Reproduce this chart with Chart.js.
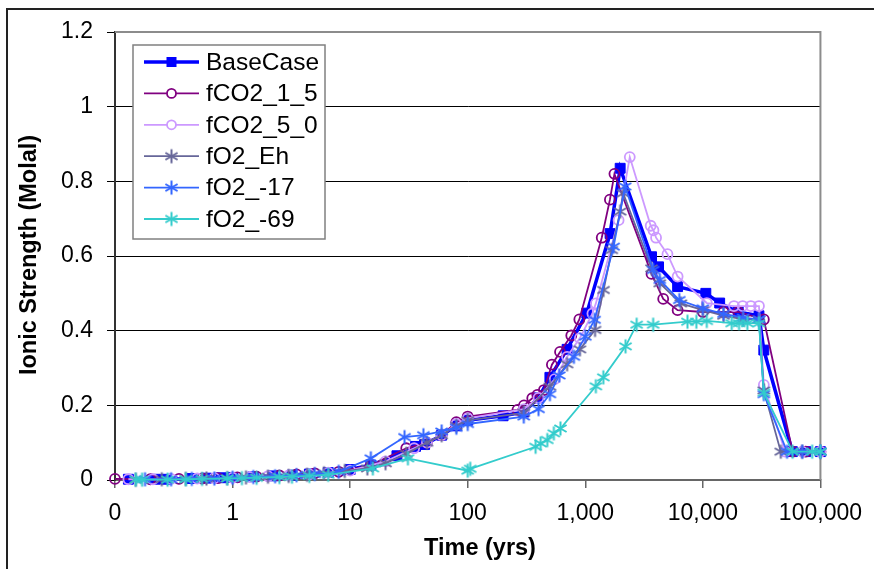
<!DOCTYPE html>
<html><head><meta charset="utf-8">
<script src="https://cdn.jsdelivr.net/npm/chart.js@4/dist/chart.umd.min.js"></script>
<style>html,body{margin:0;padding:0;background:#fff}</style>
</head><body>
<canvas id="c" width="874" height="569"></canvas>
<script>
// ---- data (time in years, ionic strength in molal) ----
const seriesNames = ['BaseCase', 'fCO2_1_5', 'fCO2_5_0', 'fO2_Eh', 'fO2_-17', 'fO2_-69'];
const xTickValues = [0.1, 1, 10, 100, 1000, 10000, 100000];
const yTickValues = [0, 0.2, 0.4, 0.6, 0.8, 1, 1.2];
const xAxisTitle = 'Time (yrs)';
const yAxisTitle = 'Ionic Strength (Molal)';

const baseCaseTime  = [0.13, 0.22, 0.27, 0.45, 0.6, 0.8, 1.0, 1.5, 2.2, 3.2, 4.5, 6.5, 10, 15, 25, 36, 43, 60, 80, 100, 200, 300, 400, 500, 700, 1030, 1625, 1980, 3660, 4200, 6100, 10600, 13900, 20000, 30000, 33000, 57700, 75000, 100000];
const baseCaseValue = [0.002, 0.002, 0.002, 0.004, 0.005, 0.006, 0.007, 0.009, 0.011, 0.013, 0.016, 0.02, 0.028, 0.04, 0.065, 0.09, 0.095, 0.12, 0.145, 0.16, 0.172, 0.182, 0.22, 0.275, 0.35, 0.447, 0.66, 0.835, 0.598, 0.571, 0.518, 0.5, 0.474, 0.45, 0.44, 0.348, 0.076, 0.076, 0.076];

const fco2_1_5Time  = [0.1, 0.2, 0.35, 0.55, 0.75, 1.1, 1.6, 2.5, 3.5, 5, 8, 15, 30, 45, 60, 80, 100, 265, 301, 354, 391, 445, 520, 610, 760, 890, 1380, 1620, 1770, 3660, 4600, 6100, 10000, 15000, 20000, 33000, 58000, 75000, 100000];
const fco2_1_5Value = [0.003, 0.002, 0.003, 0.004, 0.005, 0.007, 0.009, 0.012, 0.015, 0.018, 0.022, 0.04, 0.085, 0.1, 0.12, 0.155, 0.17, 0.188, 0.2, 0.219, 0.228, 0.241, 0.309, 0.343, 0.387, 0.43, 0.649, 0.751, 0.82, 0.552, 0.485, 0.455, 0.45, 0.45, 0.45, 0.43, 0.076, 0.076, 0.076];

const fco2_5_0Time  = [0.13, 0.21, 0.3, 0.5, 0.7, 1, 1.4, 2, 3, 4.5, 6.5, 10, 20, 35, 45, 60, 80, 100, 300, 400, 550, 700, 900, 1150, 1230, 1920, 2390, 3600, 3800, 4000, 5000, 6100, 10800, 18400, 21800, 25600, 30000, 33000, 50000, 70000, 100000];
const fco2_5_0Value = [0.002, 0.002, 0.003, 0.004, 0.005, 0.006, 0.008, 0.01, 0.012, 0.015, 0.02, 0.025, 0.05, 0.085, 0.1, 0.12, 0.15, 0.165, 0.19, 0.22, 0.27, 0.33, 0.38, 0.446, 0.473, 0.696, 0.865, 0.681, 0.669, 0.649, 0.605, 0.545, 0.474, 0.466, 0.466, 0.466, 0.466, 0.255, 0.076, 0.076, 0.076];

const fo2EhTime  = [0.15, 0.25, 0.4, 0.6, 0.9, 1.3, 2, 3, 4.3, 6, 9, 14, 20, 30, 45, 60, 80, 100, 300, 500, 700, 900, 1210, 1430, 1680, 1980, 2100, 3660, 4300, 6500, 10000, 15000, 22000, 30000, 33000, 46000, 70000, 100000];
const fo2EhValue = [0.001, 0.002, 0.003, 0.004, 0.005, 0.007, 0.009, 0.011, 0.014, 0.018, 0.024, 0.031, 0.045, 0.07, 0.1, 0.12, 0.145, 0.16, 0.18, 0.25, 0.31, 0.35, 0.402, 0.509, 0.616, 0.719, 0.768, 0.567, 0.527, 0.473, 0.455, 0.44, 0.43, 0.43, 0.24, 0.076, 0.076, 0.076];

const fo2m17Time  = [0.18, 0.3, 0.45, 0.7, 1, 1.5, 2.3, 3.5, 5, 8, 15, 29, 42, 60, 80, 100, 300, 400, 500, 600, 800, 1000, 1200, 1740, 2180, 3780, 4300, 6300, 10000, 15000, 22000, 30000, 33000, 52000, 70000, 100000];
const fo2m17Value = [0.002, 0.002, 0.003, 0.004, 0.006, 0.008, 0.01, 0.013, 0.016, 0.022, 0.058, 0.115, 0.12, 0.13, 0.14, 0.15, 0.17, 0.19, 0.23, 0.28, 0.33, 0.384, 0.429, 0.625, 0.786, 0.5625, 0.536, 0.482, 0.46, 0.445, 0.435, 0.43, 0.23, 0.076, 0.076, 0.076];

const fo2m69Time  = [0.15, 0.17, 0.28, 0.4, 0.55, 0.9, 1.2, 1.6, 2.5, 3.2, 4.5, 6.5, 15.6, 31, 100, 105, 378, 417, 475, 540, 615, 1230, 1425, 2200, 2735, 3780, 7400, 8800, 10800, 17600, 20300, 23900, 30000, 33000, 58000, 85000, 100000];
const fo2m69Value = [0.001, 0.001, 0.001, 0.002, 0.003, 0.004, 0.005, 0.006, 0.008, 0.009, 0.011, 0.014, 0.031, 0.058, 0.025, 0.03, 0.089, 0.098, 0.107, 0.125, 0.138, 0.251, 0.275, 0.358, 0.416, 0.416, 0.424, 0.424, 0.426, 0.42, 0.42, 0.42, 0.42, 0.234, 0.076, 0.076, 0.076];

// ---- styling ----
const FONT = "'Liberation Sans', Arial, sans-serif";
const colors = ['#0000FF', '#800080', '#CC99FF', '#666699', '#3366FF', '#33CCCC'];

function pts(t, v) { return t.map((x, i) => ({ x: x, y: v[i] })); }

function makeStar(color) {
  const s = 17, c = document.createElement('canvas');
  c.width = s; c.height = s;
  const g = c.getContext('2d');
  g.strokeStyle = color; g.lineWidth = 2;
  const m = s / 2, r = 7;
  g.beginPath();
  g.moveTo(m, m - r); g.lineTo(m, m + r);
  g.moveTo(m - r * 0.87, m - r * 0.5); g.lineTo(m + r * 0.87, m + r * 0.5);
  g.moveTo(m - r * 0.87, m + r * 0.5); g.lineTo(m + r * 0.87, m - r * 0.5);
  g.stroke();
  return c;
}

const allTimes = [baseCaseTime, fco2_1_5Time, fco2_5_0Time, fo2EhTime, fo2m17Time, fo2m69Time];
const allValues = [baseCaseValue, fco2_1_5Value, fco2_5_0Value, fo2EhValue, fo2m17Value, fo2m69Value];
const markerStyles = ['rect', 'circle', 'circle', makeStar(colors[3]), makeStar(colors[4]), makeStar(colors[5])];

const datasets = seriesNames.map((name, i) => ({
  label: name,
  data: pts(allTimes[i], allValues[i]),
  borderColor: colors[i],
  backgroundColor: colors[i],
  borderWidth: i === 0 ? 3.5 : 1.8,
  pointStyle: markerStyles[i],
  pointRadius: i === 0 ? 7 : (i < 3 ? 5 : 8),
  pointBorderWidth: i === 0 ? 1 : 1.8,
  pointBorderColor: colors[i],
  pointBackgroundColor: i === 0 ? colors[i] : 'rgba(255,255,255,0)',
  order: 5 - i,
  clip: false,
  tension: 0
}));

// ---- plugins ----
const framePlugin = {
  id: 'frame',
  beforeDraw(chart) {
    const g = chart.ctx;
    g.save();
    g.fillStyle = '#fff'; g.fillRect(0, 0, chart.width, chart.height);
    g.strokeStyle = '#222'; g.lineWidth = 2;
    g.beginPath();
    g.moveTo(7, chart.height + 2); g.lineTo(7, 9); g.lineTo(chart.width + 2, 9);
    g.stroke();
    g.restore();
  },
  beforeDatasetsDraw(chart) {
    const a = chart.chartArea, g = chart.ctx;
    g.save();
    g.strokeStyle = '#8c8c8c'; g.lineWidth = 2;
    g.beginPath();
    g.moveTo(a.left, a.top); g.lineTo(a.right, a.top); g.lineTo(a.right, a.bottom);
    g.stroke();
    g.restore();
  },
  afterDraw(chart) {
    const g = chart.ctx;
    g.save();
    g.fillStyle = '#000';
    g.font = 'bold 23.5px ' + FONT;
    g.textAlign = 'center'; g.textBaseline = 'middle';
    g.fillText(xAxisTitle, 480, 549);
    g.translate(30, 255); g.rotate(-Math.PI / 2);
    g.fillText(yAxisTitle, 0, 0);
    g.restore();
  }
};

function drawMarker(g, style, color, x, y) {
  g.save();
  g.strokeStyle = color; g.fillStyle = color;
  if (style === 'rect') {
    g.fillRect(x - 5, y - 5, 10, 10);
  } else if (style === 'circle') {
    g.lineWidth = 1.8; g.beginPath(); g.arc(x, y, 4.5, 0, Math.PI * 2); g.fillStyle = '#fff'; g.fill(); g.stroke();
  } else {
    g.drawImage(style, x - style.width / 2, y - style.height / 2);
  }
  g.restore();
}

const legendPlugin = {
  id: 'customLegend',
  afterDraw(chart) {
    const g = chart.ctx;
    const bx = 133, by = 45, bw = 192, bh = 194;
    g.save();
    g.fillStyle = '#fff'; g.fillRect(bx, by, bw, bh);
    g.strokeStyle = '#808080'; g.lineWidth = 1.5; g.strokeRect(bx, by, bw, bh);
    const rowY0 = 62, rowStep = 31.4;
    g.font = '24.5px ' + FONT;
    g.textBaseline = 'middle'; g.textAlign = 'left';
    chart.data.datasets.forEach((ds, i) => {
      const y = rowY0 + i * rowStep;
      g.strokeStyle = ds.borderColor; g.lineWidth = i === 0 ? 3.5 : 1.8;
      g.beginPath(); g.moveTo(144, y); g.lineTo(199, y); g.stroke();
      drawMarker(g, ds.pointStyle, ds.borderColor, 171.5, y);
      g.fillStyle = '#000';
      g.fillText(ds.label, 206, y + 1);
    });
    g.restore();
  }
};

new Chart(document.getElementById('c'), {
  type: 'line',
  data: { datasets: datasets },
  plugins: [framePlugin, legendPlugin],
  options: {
    responsive: false,
    animation: false,
    layout: { padding: { left: 0, top: 32, right: 49, bottom: 0 } },
    plugins: { legend: { display: false }, tooltip: { enabled: false } },
    scales: {
      x: {
        type: 'logarithmic', min: 0.1, max: 100000,
        afterBuildTicks: s => { s.ticks = xTickValues.map(v => ({ value: v })); },
        afterFit: s => { s.height = 89; },
        ticks: {
          autoSkip: false, maxRotation: 0, padding: 12, color: '#000',
          font: { family: FONT, size: 23 },
          callback: v => (v < 1 ? '0' : Number(v).toLocaleString('en-US'))
        },
        grid: { drawOnChartArea: false, drawTicks: true, tickLength: 8, color: '#666', lineWidth: 1.5 },
        border: { color: '#666', width: 2 },
        title: { display: false }
      },
      y: {
        min: 0, max: 1.2,
        afterBuildTicks: s => { s.ticks = yTickValues.map(v => ({ value: v })); },
        afterFit: s => { s.width = 115; },
        ticks: {
          padding: 14, color: '#000',
          font: { family: FONT, size: 23 },
          callback: v => String(Math.round(v * 10) / 10)
        },
        grid: { color: '#000', lineWidth: 1, tickLength: 8 },
        border: { color: '#333', width: 2 },
        title: { display: false }
      }
    }
  }
});
</script>
</body></html>
